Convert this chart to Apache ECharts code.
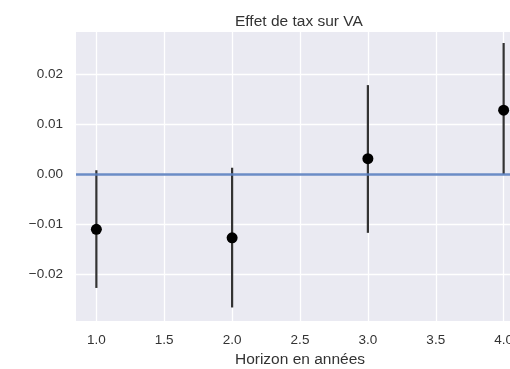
<!DOCTYPE html>
<html>
<head>
<meta charset="utf-8">
<script src="https://cdn.jsdelivr.net/npm/echarts@6/dist/echarts.min.js"></script>
<style>html,body{margin:0;padding:0;background:#fff;overflow:hidden;}#c{width:510px;height:369px;}</style>
</head>
<body>
<div id="c"></div>
<script>
var horizons = [1, 2, 3, 4];
var estimates = [-0.0110, -0.0127, 0.0031, 0.0128];
var lowerBounds = [-0.0227, -0.0266, -0.0117, 0.0000];
var upperBounds = [0.0008, 0.0013, 0.0178, 0.0262];
var xTicks = [1.0, 1.5, 2.0, 2.5, 3.0, 3.5, 4.0];
var yTicks = [-0.02, -0.01, 0.00, 0.01, 0.02];

var font = 'Liberation Sans, Arial, sans-serif';
var chart = echarts.init(document.getElementById('c'), null, {renderer: 'canvas'});
var errData = horizons.map(function (h, i) { return [h, lowerBounds[i], upperBounds[i]]; });
var ptData = horizons.map(function (h, i) { return [h, estimates[i]]; });

chart.setOption({
  animation: false,
  backgroundColor: '#ffffff',
  title: {
    text: 'Effet de tax sur VA',
    left: 230, top: 9,
    textStyle: {fontFamily: font, fontSize: 15.5, fontWeight: 'normal', color: '#333333'}
  },
  grid: {left: 76, top: 32, right: -14, bottom: 48, show: true, backgroundColor: '#EAEAF2', borderWidth: 0,
    containLabel: false, outerBoundsMode: 'none'},
  xAxis: {
    type: 'value', min: 0.85, max: 4.15,
    name: 'Horizon en années', nameLocation: 'middle', nameGap: 30,
    nameTextStyle: {fontFamily: font, fontSize: 15.5, color: '#333333'},
    axisLine: {show: false},
    axisTick: {show: false, customValues: xTicks},
    axisLabel: {customValues: xTicks, fontFamily: font, fontSize: 13.5, color: '#333333', margin: 12,
      hideOverlap: false,
      formatter: function (v) { return v.toFixed(1); }},
    splitLine: {show: true, lineStyle: {color: '#ffffff', width: 1.3}}
  },
  yAxis: {
    type: 'value', min: -0.0293, max: 0.0284,
    axisLine: {show: false},
    axisTick: {show: false, customValues: yTicks},
    axisLabel: {customValues: yTicks, fontFamily: font, fontSize: 13.5, color: '#333333', margin: 13,
      formatter: function (v) { return (v < 0 ? '\u2212' : '') + Math.abs(v).toFixed(2); }},
    splitLine: {show: true, lineStyle: {color: '#ffffff', width: 1.3}}
  },
  series: [
    {
      type: 'custom', z: 2,
      data: errData,
      encode: {x: 0, y: [1, 2]},
      renderItem: function (params, api) {
        var p1 = api.coord([api.value(0), api.value(1)]);
        var p2 = api.coord([api.value(0), api.value(2)]);
        return {type: 'line', shape: {x1: p1[0], y1: p1[1], x2: p2[0], y2: p2[1]},
          style: {stroke: '#333333', lineWidth: 2.2}};
      }
    },
    {
      type: 'line', z: 3, data: [], symbol: 'none',
      markLine: {
        silent: true, symbol: 'none', label: {show: false},
        lineStyle: {color: '#5b7fc0', width: 2.5, type: 'solid', opacity: 0.9},
        data: [{yAxis: 0}]
      }
    },
    {
      type: 'scatter', z: 4, data: ptData, symbol: 'circle', symbolSize: 11,
      itemStyle: {color: '#000000', opacity: 1}
    }
  ]
});
</script>
</body>
</html>
